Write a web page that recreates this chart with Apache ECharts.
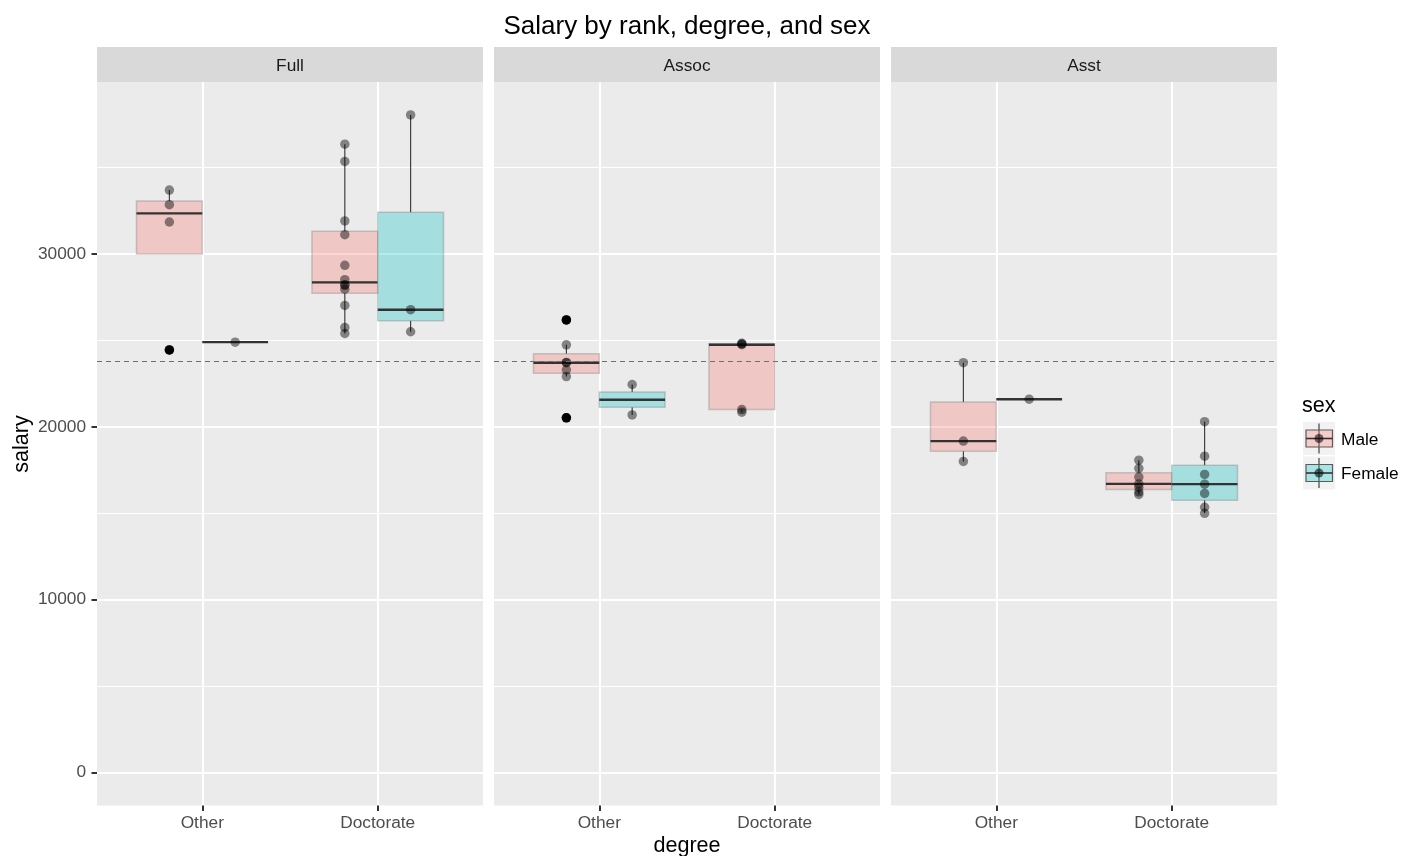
<!DOCTYPE html>
<html><head><meta charset="utf-8">
<script src="https://cdn.jsdelivr.net/npm/echarts@6/dist/echarts.min.js"></script>
<style>html,body{margin:0;padding:0;background:#fff}#c{width:1401px;height:856px}</style>
</head><body><div id="c"></div>
<script>
// ---------------- data ----------------
const titleText = 'Salary by rank, degree, and sex';
const xTitle = 'degree';
const yTitle = 'salary';
const legendTitle = 'sex';
const ranks = ['Full', 'Assoc', 'Asst'];
const degrees = ['Other', 'Doctorate'];
const sexes = ['Male', 'Female'];
const yTicks = [0, 10000, 20000, 30000];
const yMinorTicks = [5000, 15000, 25000, 35000];
const meanSalary = 23798;

// individual salaries
const fullOtherMale = [33696, 31850, 32850, 24450];
const fullOtherFemale = [24900];
const fullDocMale = [36350, 35350, 28200, 28516, 31909, 27025, 28200, 25748, 29342, 31114, 27959, 25400];
const fullDocFemale = [26775, 38045, 25500];
const assocOtherMale = [23712, 24742, 22906, 20525, 26182, 23725, 23300];
const assocOtherFemale = [20690, 22450];
const assocDocMale = [24750, 24832, 24800, 20850, 20999];
const asstOtherMale = [19175, 23713, 18000];
const asstOtherFemale = [21600];
const asstDocMale = [17095, 16700, 17600, 18075, 16500, 16094, 16244];
const asstDocFemale = [18304, 17250, 16150, 15350, 16686, 15000, 20300];

// box statistics: [lower whisker, Q1, median, Q3, upper whisker]
const fullOtherMaleBox = [31850, 30000, 32350, 33061.5, 33696];
const fullOtherFemaleBox = [24900, 24900, 24900, 24900, 24900];
const fullDocMaleBox = [25400, 27725.5, 28358, 31312.75, 36350];
const fullDocFemaleBox = [25500, 26137.5, 26775, 32410, 38045];
const assocOtherMaleBox = [22906, 23103, 23712, 24233.5, 24742];
const assocOtherFemaleBox = [20690, 21130, 21570, 22010, 22450];
const assocDocMaleBox = [20850, 20999, 24750, 24800, 24832];
const asstOtherMaleBox = [18000, 18587.5, 19175, 21444, 23713];
const asstOtherFemaleBox = [21600, 21600, 21600, 21600, 21600];
const asstDocMaleBox = [16094, 16372, 16700, 17347.5, 18075];
const asstDocFemaleBox = [15000, 15750, 16686, 17777, 20300];

// outliers
const fullOtherMaleOut = [24450];
const assocOtherMaleOut = [26182, 20525];

// [rank index, degree index, sex index, values, box, outliers]
const groups = [
  [0, 0, 0, fullOtherMale, fullOtherMaleBox, fullOtherMaleOut],
  [0, 0, 1, fullOtherFemale, fullOtherFemaleBox, []],
  [0, 1, 0, fullDocMale, fullDocMaleBox, []],
  [0, 1, 1, fullDocFemale, fullDocFemaleBox, []],
  [1, 0, 0, assocOtherMale, assocOtherMaleBox, assocOtherMaleOut],
  [1, 0, 1, assocOtherFemale, assocOtherFemaleBox, []],
  [1, 1, 0, assocDocMale, assocDocMaleBox, []],
  [2, 0, 0, asstOtherMale, asstOtherMaleBox, []],
  [2, 0, 1, asstOtherFemale, asstOtherFemaleBox, []],
  [2, 1, 0, asstDocMale, asstDocMaleBox, []],
  [2, 1, 1, asstDocFemale, asstDocFemaleBox, []]
];

// ---------------- layout / style ----------------
const FONT = "'Liberation Sans', Arial, Helvetica, sans-serif";
const PANEL_LEFT = [97, 494, 891];
const PANEL_W = 386;
const PANEL_TOP = 82;
const PANEL_H = 723.5;
const STRIP_TOP = 47;
const DODGE = 0.375;
const BOX_W = 0.375;
const fills = ['rgba(248,118,109,0.3)', 'rgba(0,191,196,0.3)'];
const allVals = groups.reduce((a, g) => a.concat(g[3]), [0]);
const dMax = Math.max.apply(null, allVals), dMin = Math.min.apply(null, allVals);
const yMin = dMin - 0.05 * (dMax - dMin);
const yMax = dMax + 0.05 * (dMax - dMin);

function xPos(deg, sex) { return deg + 1 + (sex === 0 ? -DODGE / 2 : DODGE / 2); }

const grids = [], xAxes = [], yAxes = [], series = [], graphics = [];

ranks.forEach((rank, r) => {
  grids.push({ left: PANEL_LEFT[r], top: PANEL_TOP, width: PANEL_W, height: PANEL_H,
    show: true, backgroundColor: '#EBEBEB', borderWidth: 0 });
  xAxes.push({
    type: 'value', gridIndex: r, min: 0.4, max: 2.6, position: 'bottom',
    axisLine: { show: false, onZero: false },
    axisTick: { show: true, length: 5.5, lineStyle: { color: '#333333', width: 2 }, customValues: [1, 2] },
    axisLabel: { show: true, customValues: [1, 2], margin: 9, color: '#4D4D4D', fontSize: 17.3, fontFamily: FONT,
      formatter: v => degrees[Math.round(v) - 1] },
    splitLine: { show: true, lineStyle: { color: '#FFFFFF', width: 2.1 } }
  });
  yAxes.push({
    type: 'value', gridIndex: r, min: yMin, max: yMax,
    axisLine: { show: false, onZero: false },
    axisTick: { show: r === 0, length: 5.5, lineStyle: { color: '#333333', width: 2 }, customValues: yTicks },
    axisLabel: { show: r === 0, customValues: yTicks, margin: 11, color: '#4D4D4D', fontSize: 17.3, fontFamily: FONT,
      formatter: v => String(Math.round(v)) },
    splitLine: { show: true, lineStyle: { color: '#FFFFFF', width: 2.1 } }
  });
  // strip
  graphics.push({ type: 'rect', shape: { x: PANEL_LEFT[r], y: STRIP_TOP, width: PANEL_W, height: PANEL_TOP - STRIP_TOP },
    style: { fill: '#D9D9D9' }, silent: true });
  graphics.push({ type: 'text', x: PANEL_LEFT[r] + PANEL_W / 2, y: (STRIP_TOP + PANEL_TOP) / 2 + 2,
    style: { text: rank, fill: '#1A1A1A', font: '17.3px ' + FONT, align: 'center', verticalAlign: 'middle' }, silent: true });
});
// minor gridline axes
ranks.forEach((rank, r) => {
  yAxes.push({
    type: 'value', gridIndex: r, min: yMin, max: yMax,
    axisLine: { show: false, onZero: false }, axisLabel: { show: false },
    axisTick: { show: false, customValues: yMinorTicks },
    splitLine: { show: true, lineStyle: { color: '#FFFFFF', width: 1.05 } }
  });
});

function renderBox(params, api) {
  const xc = api.value(0);
  const low = api.value(1), q1 = api.value(2), med = api.value(3), q3 = api.value(4), high = api.value(5);
  const sex = api.value(6);
  const half = BOX_W / 2;
  const tl = api.coord([xc - half, q3]);
  const br = api.coord([xc + half, q1]);
  const pm = api.coord([xc, med]);
  const pH = api.coord([xc, high]);
  const pL = api.coord([xc, low]);
  const pQ1 = api.coord([xc, q1]);
  const pQ3 = api.coord([xc, q3]);
  const children = [];
  if (high > q3) children.push({ type: 'line', shape: { x1: pQ3[0], y1: pQ3[1], x2: pH[0], y2: pH[1] },
    style: { stroke: '#333333', lineWidth: 1.1 } });
  if (low < q1) children.push({ type: 'line', shape: { x1: pQ1[0], y1: pQ1[1], x2: pL[0], y2: pL[1] },
    style: { stroke: '#333333', lineWidth: 1.1 } });
  if (q3 > q1) children.push({ type: 'rect', shape: { x: tl[0], y: tl[1], width: br[0] - tl[0], height: br[1] - tl[1] },
    style: { fill: fills[sex], stroke: 'rgba(120,120,120,0.35)', lineWidth: 1.5 } });
  children.push({ type: 'line', shape: { x1: tl[0], y1: pm[1], x2: br[0], y2: pm[1] },
    style: { stroke: '#333333', lineWidth: 2.4 } });
  return { type: 'group', children: children };
}

ranks.forEach((rank, r) => {
  const gs = groups.filter(g => g[0] === r);
  const boxData = gs.map(g => [xPos(g[1], g[2])].concat(g[4]).concat([g[2]]));
  series.push({
    type: 'custom', xAxisIndex: r, yAxisIndex: r, renderItem: renderBox, data: boxData,
    encode: { x: 0, y: [1, 2, 3, 4, 5] }, silent: true, z: 2
  });
  const outData = [];
  gs.forEach(g => g[5].forEach(v => outData.push([xPos(g[1], g[2]), v])));
  series.push({
    type: 'scatter', xAxisIndex: r, yAxisIndex: r, data: outData, symbolSize: 9.5,
    itemStyle: { color: '#000000', opacity: 1 }, silent: true, z: 3
  });
  const ptData = [];
  gs.forEach(g => g[3].forEach(v => ptData.push([xPos(g[1], g[2]), v])));
  series.push({
    type: 'scatter', xAxisIndex: r, yAxisIndex: r, data: ptData, symbolSize: 9.5,
    itemStyle: { color: 'rgba(0,0,0,0.56)' }, silent: true, z: 4,
    markLine: { silent: true, symbol: ['none', 'none'], label: { show: false }, animation: false,
      lineStyle: { color: '#6f6f6f', type: [5, 4], width: 1.2 }, data: [{ yAxis: meanSalary }], z: 5 }
  });
});

// titles
graphics.push({ type: 'text', x: 687, y: 26.5, silent: true,
  style: { text: titleText, fill: '#000000', font: '26px ' + FONT, align: 'center', verticalAlign: 'middle' } });
graphics.push({ type: 'text', x: 687, y: 846, silent: true,
  style: { text: xTitle, fill: '#000000', font: '21.6px ' + FONT, align: 'center', verticalAlign: 'middle' } });
graphics.push({ type: 'text', x: 22.5, y: 444, rotation: Math.PI / 2, silent: true,
  style: { text: yTitle, fill: '#000000', font: '21.6px ' + FONT, align: 'center', verticalAlign: 'middle' } });

// legend
graphics.push({ type: 'text', x: 1302, y: 406, silent: true,
  style: { text: legendTitle, fill: '#000000', font: '21.6px ' + FONT, align: 'left', verticalAlign: 'middle' } });
sexes.forEach((s, i) => {
  const ky = 422 + i * 34.5;
  const cy = ky + 16.5;
  graphics.push({ type: 'rect', silent: true, shape: { x: 1303, y: ky, width: 32, height: 33 }, style: { fill: '#F2F2F2' } });
  graphics.push({ type: 'line', silent: true, shape: { x1: 1319, y1: ky + 1.5, x2: 1319, y2: ky + 31.5 }, style: { stroke: '#333333', lineWidth: 1.1 } });
  graphics.push({ type: 'rect', silent: true, shape: { x: 1306, y: cy - 8.5, width: 26.5, height: 17 },
    style: { fill: fills[i], stroke: '#5a5a5a', lineWidth: 1.2 } });
  graphics.push({ type: 'line', silent: true, shape: { x1: 1306, y1: cy, x2: 1332.5, y2: cy }, style: { stroke: '#333333', lineWidth: 1.6 } });
  graphics.push({ type: 'circle', silent: true, shape: { cx: 1319, cy: cy, r: 4.5 }, style: { fill: 'rgba(0,0,0,0.56)' } });
  graphics.push({ type: 'text', x: 1341, y: cy + 1.5, silent: true,
    style: { text: s, fill: '#000000', font: '17.3px ' + FONT, align: 'left', verticalAlign: 'middle' } });
});

const chart = echarts.init(document.getElementById('c'), null, { renderer: 'canvas' });
chart.setOption({
  animation: false,
  backgroundColor: '#FFFFFF',
  textStyle: { fontFamily: FONT },
  grid: grids, xAxis: xAxes, yAxis: yAxes, series: series, graphic: graphics
});
</script></body></html>
